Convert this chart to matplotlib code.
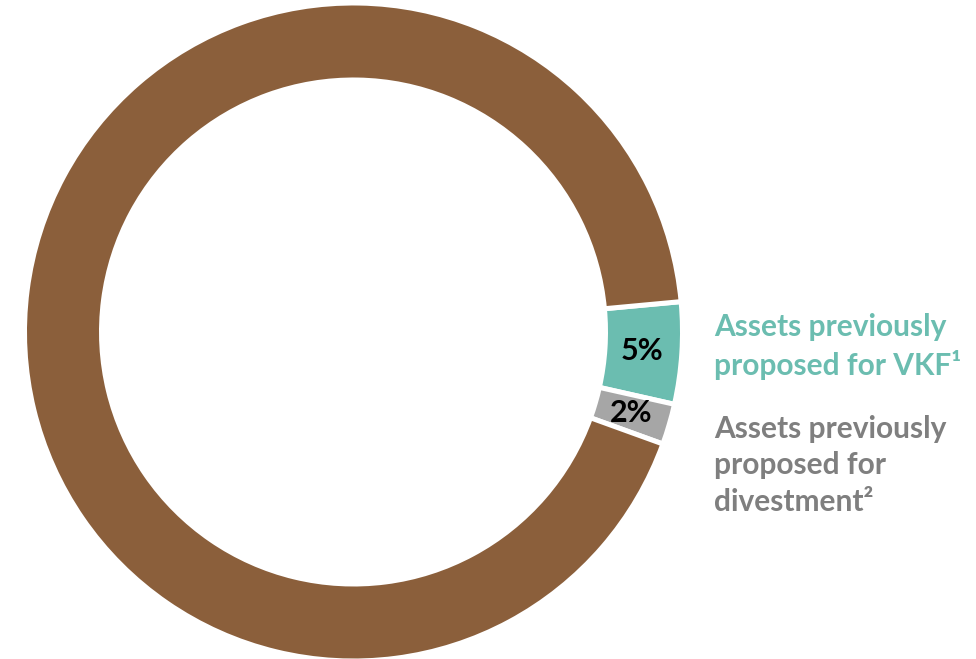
import numpy as np
import matplotlib.pyplot as plt

plt.rcParams['font.family'] = ['Lato', 'DejaVu Sans']

# asset mix shares (%)
categories = ["Assets previously proposed for VKF", "Assets previously proposed for divestment", "Other assets"]
shares = [5, 2, 93]
pct_labels = ["5%", "2%", ""]
colors = ["#6BBDB0", "#A6A6A6", "#8B5F3B"]

W, H = 976, 659
cx, cy = 353.5, H - 332
start_angle = 5.3

fig = plt.figure(figsize=(W / 100, H / 100), dpi=100)
ax = fig.add_axes([0, 0, 1, 1])

ax.pie(shares, colors=colors, startangle=start_angle, counterclock=False,
       center=(cx, cy), radius=329,
       wedgeprops=dict(width=77, edgecolor="white", linewidth=3.6))

ax.set_xlim(0, W)
ax.set_ylim(0, H)
ax.set_aspect("equal")
ax.axis("off")

# percentage labels in the middle of the ring
a = start_angle
for share, lab in zip(shares, pct_labels):
    mid = np.deg2rad(a - share * 3.6 / 2)
    a -= share * 3.6
    if lab:
        ax.text(cx + 289 * np.cos(mid), cy + 289 * np.sin(mid), lab,
                ha="center", va="center", fontsize=22, fontweight="bold", color="black")

ax.text(714, H - 313, "Assets previously\nproposed for VKF\u00b9", color="#6BBDB0",
        fontsize=21.5, fontweight="bold", ha="left", va="top", linespacing=1.36)
ax.text(714, H - 415, "Assets previously\nproposed for\ndivestment\u00b2", color="#7F7F7F",
        fontsize=21.5, fontweight="bold", ha="left", va="top", linespacing=1.36)

fig.savefig("out.png", dpi=100)
